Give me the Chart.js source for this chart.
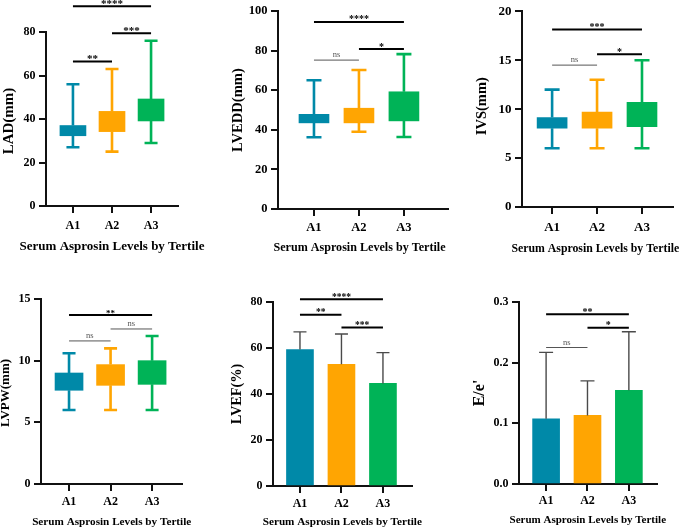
<!DOCTYPE html>
<html><head><meta charset="utf-8">
<script src="https://cdn.jsdelivr.net/npm/chart.js@4/dist/chart.umd.min.js"></script>
<style>
html,body{margin:0;padding:0;background:#fff;}
#wrap{position:relative;width:685px;height:529px;background:#fff;overflow:hidden;}
canvas{position:absolute;}
</style></head>
<body>
<div id="wrap">
<canvas id="c1" width="230" height="260" style="left:0px;top:0px"></canvas>
<canvas id="c2" width="230" height="260" style="left:230px;top:0px"></canvas>
<canvas id="c3" width="225" height="260" style="left:460px;top:0px"></canvas>
<canvas id="c4" width="230" height="269" style="left:0px;top:260px"></canvas>
<canvas id="c5" width="230" height="269" style="left:230px;top:260px"></canvas>
<canvas id="c6" width="225" height="269" style="left:460px;top:260px"></canvas>
</div>
<script>
// ---------- data ----------
const categories = ['A1', 'A2', 'A3'];
const xAxisTitle = 'Serum Asprosin Levels by Tertile';

// LAD box plot
const ladMin = [27, 25, 29];
const ladQ1  = [32.3, 34.2, 39.1];
const ladQ3  = [37, 43.5, 49.2];
const ladMax = [56, 63, 76];
const ladTicks = [0, 20, 40, 60, 80];
const ladSig = [[0, 1, 66.4, '**'], [1, 2, 79.4, '***'], [0, 2, 91.8, '****']];

// LVEDD box plot
const lveddMin = [36.2, 39, 36.4];
const lveddQ1  = [43.5, 43.5, 44.5];
const lveddQ3  = [47.8, 50.9, 59.2];
const lveddMax = [65, 70.2, 78.2];
const lveddTicks = [0, 20, 40, 60, 80, 100];
const lveddSig = [[0, 1, 75.2, 'ns'], [1, 2, 80.8, '*'], [0, 2, 94.5, '****']];

// IVS box plot
const ivsMin = [6, 6, 6];
const ivsQ1  = [8.05, 8.05, 8.2];
const ivsQ3  = [9.15, 9.7, 10.7];
const ivsMax = [12, 13, 15];
const ivsTicks = [0, 5, 10, 15, 20];
const ivsSig = [[0, 1, 14.5, 'ns'], [1, 2, 15.6, '*'], [0, 2, 18.15, '***']];

// LVPW box plot
const lvpwMin = [6, 6, 6];
const lvpwQ1  = [7.6, 8, 8.08];
const lvpwQ3  = [9, 9.68, 10];
const lvpwMax = [10.6, 11, 12];
const lvpwTicks = [0, 5, 10, 15];
const lvpwSig = [[0, 1, 11.6, 'ns'], [1, 2, 12.57, 'ns'], [0, 2, 13.7, '**']];

// LVEF mean + SD
const lvefMean = [59.3, 52.9, 44.6];
const lvefSD   = [7.7, 13.2, 13.4];
const lvefTicks = [0, 20, 40, 60, 80];
const lvefSig = [[0, 1, 74.5, '**'], [1, 2, 68.9, '***'], [0, 2, 81.2, '****']];

// E/e' mean + SD
const eeMean = [0.1075, 0.113, 0.1545];
const eeSD   = [0.1095, 0.057, 0.0965];
const eeTicks = [0, 0.1, 0.2, 0.3];
const eeSig = [[0, 1, 0.225, 'ns'], [1, 2, 0.2576, '*'], [0, 2, 0.2797, '**']];

const barColors = ['#0089A8', '#FFA502', '#00B357'];
const FONT = '"Liberation Serif", "Times New Roman", serif';

// ---------- panels ----------
const panels = [
  {id:'c1', w:230, h:260, kind:'box', min:ladMin, q1:ladQ1, q3:ladQ3, max:ladMax, yTicks:ladTicks, sig:ladSig, yTitle:'LAD(mm)',
   area:{l:46,t:32,r:178,b:206}, xMin:0.31, xMax:3.69, tickSize:12, xTickPad:5.5, xTitleSize:13, xTitleX:112, xTitleY:246.5, yTitleSize:15, yTitleX:9, yTitleDy:2, barW:26, capW:13, sigSize:11},
  {id:'c2', w:230, h:260, kind:'box', min:lveddMin, q1:lveddQ1, q3:lveddQ3, max:lveddMax, yTicks:lveddTicks, sig:lveddSig, yTitle:'LVEDD(mm)',
   area:{l:48,t:7,r:218,b:209}, xMin:0.2, xMax:3.98, tickSize:12.5, xTickPad:4.5, xTitleSize:12.1, xTitleX:129.5, xTitleY:248, yTitleSize:14.6, yTitleX:8, yTitleDy:0, barW:30, capW:15, sigSize:10},
  {id:'c3', w:225, h:260, kind:'box', min:ivsMin, q1:ivsQ1, q3:ivsQ3, max:ivsMax, yTicks:ivsTicks, sig:ivsSig, yTitle:'IVS(mm)',
   area:{l:62,t:7,r:213,b:207}, xMin:0.33, xMax:3.69, tickSize:13, xTickPad:5.5, xTitleSize:11.8, xTitleX:135.3, xTitleY:248.5, yTitleSize:14.5, yTitleX:22, yTitleDy:-3, barW:30, capW:15, sigSize:10},
  {id:'c4', w:230, h:269, kind:'box', min:lvpwMin, q1:lvpwQ1, q3:lvpwQ3, max:lvpwMax, yTicks:lvpwTicks, sig:lvpwSig, yTitle:'LVPW(mm)',
   area:{l:41,t:39,r:182,b:224}, xMin:0.325, xMax:3.72, tickSize:12, xTickPad:3.5, xTitleSize:11.2, xTitleX:111.7, xTitleY:262.5, yTitleSize:13, yTitleX:6, yTitleDy:1.5, barW:28, capW:13, sigSize:9},
  {id:'c5', w:230, h:269, kind:'bar', mean:lvefMean, sd:lvefSD, yTicks:lvefTicks, sig:lvefSig, yTitle:'LVEF(%)',
   area:{l:43,t:42,r:182,b:226}, xMin:0.35, xMax:3.7, tickSize:12, xTickPad:3.3, xTitleSize:11.2, xTitleX:112.3, xTitleY:262.5, yTitleSize:14.3, yTitleX:7, yTitleDy:0, barW:27, capW:13, sigSize:9.5},
  {id:'c6', w:225, h:269, kind:'bar', mean:eeMean, sd:eeSD, yTicks:eeTicks, sig:eeSig, yTitle:"E/e'", fmt:v=>v.toFixed(1),
   area:{l:59,t:42,r:197,b:224}, xMin:0.345, xMax:3.68, tickSize:12, xTickPad:3, xTitleSize:11, xTitleX:127.8, xTitleY:260, yTitleSize:16, yTitleX:20, yTitleDy:0, barW:27, capW:14, sigSize:10}
];

function decorPlugin(p) {
  return {
    id: 'decor_' + p.id,
    afterDatasetsDraw(chart) {
      const ctx = chart.ctx, xs = chart.scales.x, ys = chart.scales.y;
      ctx.save();
      categories.forEach((c, i) => {
        const x = xs.getPixelForValue(i + 1);
        if (p.kind === 'box') {
          ctx.strokeStyle = barColors[i];
          ctx.lineWidth = 2.6;
          const yMin = ys.getPixelForValue(p.min[i]), yQ1 = ys.getPixelForValue(p.q1[i]);
          const yQ3 = ys.getPixelForValue(p.q3[i]), yMax = ys.getPixelForValue(p.max[i]);
          ctx.beginPath();
          ctx.moveTo(x, yMin); ctx.lineTo(x, yQ1);
          ctx.moveTo(x, yQ3); ctx.lineTo(x, yMax);
          ctx.moveTo(x - p.capW / 2, yMin); ctx.lineTo(x + p.capW / 2, yMin);
          ctx.moveTo(x - p.capW / 2, yMax); ctx.lineTo(x + p.capW / 2, yMax);
          ctx.stroke();
        } else {
          ctx.strokeStyle = '#4a4a4a';
          ctx.lineWidth = 1.4;
          const y0 = ys.getPixelForValue(p.mean[i]);
          const y1 = ys.getPixelForValue(p.mean[i] + p.sd[i]);
          ctx.beginPath();
          ctx.moveTo(x, y0); ctx.lineTo(x, y1);
          ctx.moveTo(x - p.capW / 2, y1); ctx.lineTo(x + p.capW / 2, y1);
          ctx.stroke();
        }
      });
      ctx.restore();
    },
    afterDraw(chart) {
      const ctx = chart.ctx, xs = chart.scales.x, ys = chart.scales.y, ca = chart.chartArea;
      ctx.save();
      ctx.textAlign = 'center';
      ctx.textBaseline = 'alphabetic';
      p.sig.forEach(([a, b, v, label]) => {
        const x1 = xs.getPixelForValue(a + 1), x2 = xs.getPixelForValue(b + 1);
        const y = ys.getPixelForValue(v);
        const ns = label === 'ns';
        ctx.strokeStyle = ns ? '#555' : '#000';
        ctx.lineWidth = ns ? 1 : 2;
        ctx.beginPath(); ctx.moveTo(x1, y); ctx.lineTo(x2, y); ctx.stroke();
        if (ns) {
          ctx.fillStyle = '#555';
          ctx.font = '8.5px ' + FONT;
          ctx.fillText(label, (x1 + x2) / 2, y - 2.8);
        } else {
          ctx.fillStyle = '#000';
          ctx.font = 'bold ' + p.sigSize + 'px ' + FONT;
          ctx.fillText(label, (x1 + x2) / 2, y + 0.5);
        }
      });
      // axis titles (drawn as real text, not squeezed to the axis length)
      ctx.fillStyle = '#000';
      ctx.textBaseline = 'middle';
      ctx.font = 'bold ' + p.xTitleSize + 'px ' + FONT;
      ctx.fillText(xAxisTitle, p.xTitleX, p.xTitleY);
      ctx.save();
      ctx.translate(p.yTitleX, (ca.top + ca.bottom) / 2 + p.yTitleDy);
      ctx.rotate(-Math.PI / 2);
      ctx.font = 'bold ' + p.yTitleSize + 'px ' + FONT;
      ctx.fillText(p.yTitle, 0, 0);
      ctx.restore();
      ctx.restore();
    }
  };
}

function makeChart(p) {
  const cv = document.getElementById(p.id);
  const data = p.kind === 'box'
    ? categories.map((c, i) => ({x: i + 1, y: [p.q1[i], p.q3[i]]}))
    : categories.map((c, i) => ({x: i + 1, y: p.mean[i]}));
  const tickFont = {family: FONT, weight: 'bold', size: p.tickSize};
  const gridOpt = {drawOnChartArea: false, drawTicks: true, tickLength: 7, color: '#111', lineWidth: 2, offset: false};
  const borderOpt = {display: true, color: '#111', width: 2};
  const yTop = p.yTicks[p.yTicks.length - 1];
  new Chart(cv, {
    type: 'bar',
    data: {datasets: [{data, backgroundColor: barColors, borderWidth: 0, barThickness: p.barW}]},
    options: {
      responsive: false, animation: false, devicePixelRatio: 1,
      layout: {padding: {left: 0, top: p.area.t, right: p.w - p.area.r, bottom: 0}},
      plugins: {legend: {display: false}, tooltip: {enabled: false}},
      scales: {
        x: {
          type: 'linear', min: p.xMin, max: p.xMax, offset: false,
          afterBuildTicks: a => { a.ticks = categories.map((c, i) => ({value: i + 1})); },
          afterFit: a => { a.height = p.h - p.area.b; },
          ticks: {callback: v => categories[v - 1], color: '#000', font: tickFont, padding: p.xTickPad, maxRotation: 0, autoSkip: false},
          grid: gridOpt, border: borderOpt,
          title: {display: false}
        },
        y: {
          min: 0, max: yTop,
          afterBuildTicks: a => { a.ticks = p.yTicks.map(v => ({value: v})); },
          afterFit: a => { a.width = p.area.l; },
          ticks: {callback: v => p.fmt ? p.fmt(v) : String(v), color: '#000', font: tickFont, padding: 3.5},
          grid: gridOpt, border: borderOpt,
          title: {display: false}
        }
      }
    },
    plugins: [decorPlugin(p)]
  });
}
panels.forEach(makeChart);
</script>
</body></html>
